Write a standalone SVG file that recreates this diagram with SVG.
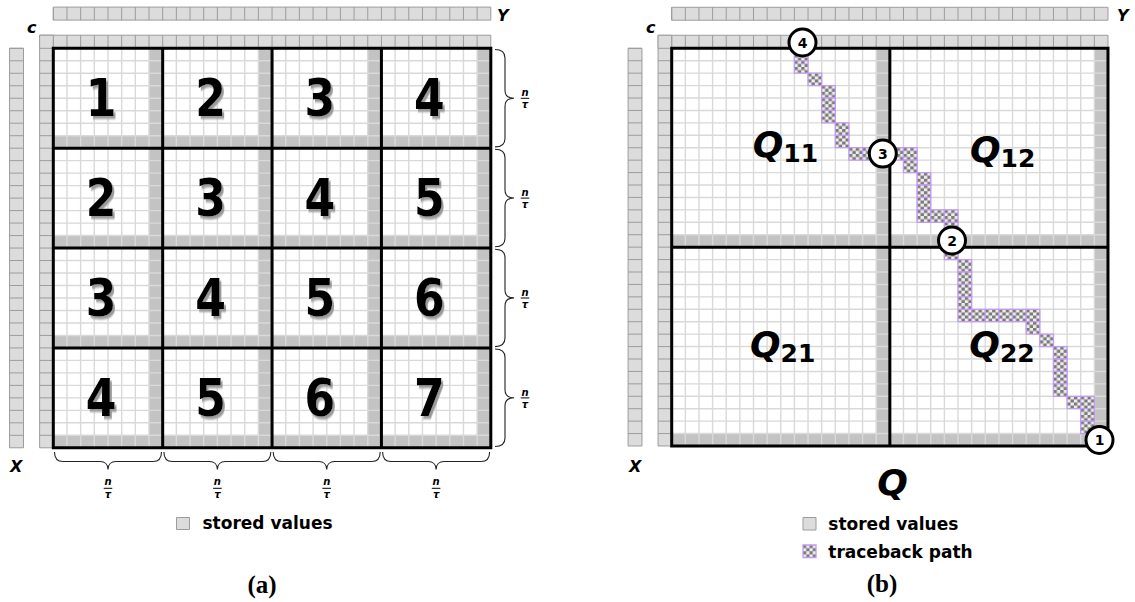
<svg xmlns="http://www.w3.org/2000/svg" width="1135" height="602" viewBox="0 0 1135 602">
<style>
.gl{fill:none;stroke:#d9d9d9;stroke-width:1.4;vector-effect:non-scaling-stroke}
.st{fill:#c3c3c3}
.sc{fill:#dcdcdc;stroke:#9c9c9c;stroke-width:1;vector-effect:non-scaling-stroke}
.sl{fill:none;stroke:#9c9c9c;stroke-width:1;vector-effect:non-scaling-stroke}
.tk{fill:none;stroke:#000;stroke-width:3;vector-effect:non-scaling-stroke}
.tb{fill:url(#chk);stroke:#c29af0;stroke-width:1.3;vector-effect:non-scaling-stroke}
.big{font-family:"DejaVu Sans",Verdana,sans-serif;font-weight:bold;font-size:52px;text-anchor:middle;filter:url(#shadow)}
.lbl{font-family:"DejaVu Sans",sans-serif;font-weight:bold;font-style:italic;font-size:16px}
.fr{font-family:"DejaVu Sans",sans-serif;font-weight:bold;font-style:italic;font-size:10px;text-anchor:middle}
.fb{stroke:#000;stroke-width:1}
.br{fill:none;stroke:#222;stroke-width:1.1}
.leg{font-family:"DejaVu Sans",sans-serif;font-weight:bold;font-size:17px}
.cap{font-family:"Liberation Serif",serif;font-weight:bold;font-size:25px;text-anchor:middle}
.circ{fill:#fff;stroke:#000;stroke-width:3}
.cn{font-family:"DejaVu Sans",sans-serif;font-weight:bold;font-size:14px;text-anchor:middle}
.q{font-family:"DejaVu Sans",sans-serif;font-weight:bold;font-style:italic;font-size:36px}
.sub{font-style:normal;font-size:25px}
</style>
<defs>
<filter id="shadow" x="-20%" y="-20%" width="150%" height="150%">
<feGaussianBlur in="SourceAlpha" stdDeviation="0.8" result="b"/>
<feOffset in="b" dx="2.5" dy="2.5" result="o"/>
<feFlood flood-color="#9a9a9a"/>
<feComposite in2="o" operator="in" result="s"/>
<feMerge><feMergeNode in="s"/><feMergeNode in="SourceGraphic"/></feMerge>
</filter>
<pattern id="chk" patternUnits="objectBoundingBox" patternContentUnits="objectBoundingBox" width="0.5" height="0.5">
<rect width="0.5" height="0.5" fill="#eeeeee"/>
<rect width="0.25" height="0.25" fill="#7a7a7a"/>
<rect x="0.25" y="0.25" width="0.25" height="0.25" fill="#7a7a7a"/>
</pattern>
<path id="grid" class="gl" d="M1 0V32M2 0V32M3 0V32M4 0V32M5 0V32M6 0V32M7 0V32M8 0V32M9 0V32M10 0V32M11 0V32M12 0V32M13 0V32M14 0V32M15 0V32M16 0V32M17 0V32M18 0V32M19 0V32M20 0V32M21 0V32M22 0V32M23 0V32M24 0V32M25 0V32M26 0V32M27 0V32M28 0V32M29 0V32M30 0V32M31 0V32M0 1H32M0 2H32M0 3H32M0 4H32M0 5H32M0 6H32M0 7H32M0 8H32M0 9H32M0 10H32M0 11H32M0 12H32M0 13H32M0 14H32M0 15H32M0 16H32M0 17H32M0 18H32M0 19H32M0 20H32M0 21H32M0 22H32M0 23H32M0 24H32M0 25H32M0 26H32M0 27H32M0 28H32M0 29H32M0 30H32M0 31H32"/>
<path id="vsep" class="sl" d="M0 0V1M1 0V1M2 0V1M3 0V1M4 0V1M5 0V1M6 0V1M7 0V1M8 0V1M9 0V1M10 0V1M11 0V1M12 0V1M13 0V1M14 0V1M15 0V1M16 0V1M17 0V1M18 0V1M19 0V1M20 0V1M21 0V1M22 0V1M23 0V1M24 0V1M25 0V1M26 0V1M27 0V1M28 0V1M29 0V1M30 0V1M31 0V1"/>
<path id="hsep" class="sl" d="M0 0H1M0 1H1M0 2H1M0 3H1M0 4H1M0 5H1M0 6H1M0 7H1M0 8H1M0 9H1M0 10H1M0 11H1M0 12H1M0 13H1M0 14H1M0 15H1M0 16H1M0 17H1M0 18H1M0 19H1M0 20H1M0 21H1M0 22H1M0 23H1M0 24H1M0 25H1M0 26H1M0 27H1M0 28H1M0 29H1M0 30H1M0 31H1"/>
<g id="strips">
<rect class="sc" x="-1" y="-1.05" width="33" height="1.05"/>
<use href="#vsep" transform="translate(0,-1.05) scale(1,1.05)"/>
<rect class="sc" x="-1" y="-1.05" width="1" height="33.05"/>
<use href="#hsep" transform="translate(-1,0)"/>
<rect class="sc" x="0" y="-3.3" width="32" height="1.04"/>
<use href="#vsep" transform="translate(0,-3.3) scale(1,1.04)"/>
<rect class="sc" x="-3.2" y="0" width="1.02" height="32"/>
<use href="#hsep" transform="translate(-3.2,0) scale(1.02,1)"/>
</g>
<rect id="tc" class="tb" width="1" height="1"/>
</defs>

<g id="panel-a">
<g id="grid-a" transform="translate(53.3,48.3) scale(13.672,12.484)">
<rect x="0" y="0" width="32" height="32" fill="#fff"/>
<rect class="st" x="7" y="0" width="1" height="32"/>
<rect class="st" x="15" y="0" width="1" height="32"/>
<rect class="st" x="23" y="0" width="1" height="32"/>
<rect class="st" x="31" y="0" width="1" height="32"/>
<rect class="st" x="0" y="7" width="32" height="1"/>
<rect class="st" x="0" y="15" width="32" height="1"/>
<rect class="st" x="0" y="23" width="32" height="1"/>
<rect class="st" x="0" y="31" width="32" height="1"/>
<use href="#grid"/>
<use href="#strips"/>
<path class="tk" d="M0 0H32V32H0ZM8 0V32M16 0V32M24 0V32M0 8H32M0 16H32M0 24H32"/>
</g>
<g id="blocks-a">
<g transform="translate(101.2,116.3) scale(0.85,1)"><text class="big">1</text></g>
<g transform="translate(210.5,116.3) scale(0.85,1)"><text class="big">2</text></g>
<g transform="translate(319.9,116.3) scale(0.85,1)"><text class="big">3</text></g>
<g transform="translate(429.3,116.3) scale(0.85,1)"><text class="big">4</text></g>
<g transform="translate(101.2,216.1) scale(0.85,1)"><text class="big">2</text></g>
<g transform="translate(210.5,216.1) scale(0.85,1)"><text class="big">3</text></g>
<g transform="translate(319.9,216.1) scale(0.85,1)"><text class="big">4</text></g>
<g transform="translate(429.3,216.1) scale(0.85,1)"><text class="big">5</text></g>
<g transform="translate(101.2,316) scale(0.85,1)"><text class="big">3</text></g>
<g transform="translate(210.5,316) scale(0.85,1)"><text class="big">4</text></g>
<g transform="translate(319.9,316) scale(0.85,1)"><text class="big">5</text></g>
<g transform="translate(429.3,316) scale(0.85,1)"><text class="big">6</text></g>
<g transform="translate(101.2,415.8) scale(0.85,1)"><text class="big">4</text></g>
<g transform="translate(210.5,415.8) scale(0.85,1)"><text class="big">5</text></g>
<g transform="translate(319.9,415.8) scale(0.85,1)"><text class="big">6</text></g>
<g transform="translate(429.3,415.8) scale(0.85,1)"><text class="big">7</text></g>
</g>
<g id="labels-a">
<text class="lbl" x="27" y="33">c</text>
<text class="lbl" x="497" y="21">Y</text>
<text class="lbl" x="10" y="472">X</text>
</g>
<g id="braces-a">
<path class="br" d="M495 49.5C501 49.5 505 51.5 505 58V90.2C505 95 508 98.2 514 98.2C508 98.2 505 101.4 505 106.2V138.4C505 144.9 501 146.9 495 146.9"/>
<path class="br" d="M495 149.3C501 149.3 505 151.3 505 157.8V190C505 194.8 508 198 514 198C508 198 505 201.2 505 206V238.3C505 244.8 501 246.8 495 246.8"/>
<path class="br" d="M495 249.2C501 249.2 505 251.2 505 257.7V289.9C505 294.7 508 297.9 514 297.9C508 297.9 505 301.1 505 305.9V338.1C505 344.6 501 346.6 495 346.6"/>
<path class="br" d="M495 349C501 349 505 351 505 357.5V389.8C505 394.6 508 397.8 514 397.8C508 397.8 505 401 505 405.8V438C505 444.5 501 446.5 495 446.5"/>
<path class="br" d="M54.5 452C54.5 458 56.5 461.5 63 461.5H100C104.8 461.5 108 464.5 108 469.5C108 464.5 111.2 461.5 116 461.5H153C159.5 461.5 161.5 458 161.5 452"/>
<path class="br" d="M163.9 452C163.9 458 165.9 461.5 172.4 461.5H209.4C214.2 461.5 217.4 464.5 217.4 469.5C217.4 464.5 220.6 461.5 225.4 461.5H262.3C268.8 461.5 270.8 458 270.8 452"/>
<path class="br" d="M273.2 452C273.2 458 275.2 461.5 281.7 461.5H318.7C323.5 461.5 326.7 464.5 326.7 469.5C326.7 464.5 329.9 461.5 334.7 461.5H371.7C378.2 461.5 380.2 458 380.2 452"/>
<path class="br" d="M382.6 452C382.6 458 384.6 461.5 391.1 461.5H428.1C432.9 461.5 436.1 464.5 436.1 469.5C436.1 464.5 439.3 461.5 444.1 461.5H481.1C487.6 461.5 489.6 458 489.6 452"/>
</g>
<g id="fractions-a">
<text class="fr" x="525" y="96">n</text><line class="fb" x1="520.7" y1="98.3" x2="529.3" y2="98.3"/><text class="fr" x="525" y="108.3">τ</text>
<text class="fr" x="525" y="195.8">n</text><line class="fb" x1="520.7" y1="198.1" x2="529.3" y2="198.1"/><text class="fr" x="525" y="208.1">τ</text>
<text class="fr" x="525" y="295.7">n</text><line class="fb" x1="520.7" y1="298" x2="529.3" y2="298"/><text class="fr" x="525" y="308">τ</text>
<text class="fr" x="525" y="395.6">n</text><line class="fb" x1="520.7" y1="397.9" x2="529.3" y2="397.9"/><text class="fr" x="525" y="407.9">τ</text>
<text class="fr" x="108" y="485">n</text><line class="fb" x1="103.7" y1="488.3" x2="112.3" y2="488.3"/><text class="fr" x="108" y="498">τ</text>
<text class="fr" x="217.4" y="485">n</text><line class="fb" x1="213.1" y1="488.3" x2="221.7" y2="488.3"/><text class="fr" x="217.4" y="498">τ</text>
<text class="fr" x="326.7" y="485">n</text><line class="fb" x1="322.4" y1="488.3" x2="331" y2="488.3"/><text class="fr" x="326.7" y="498">τ</text>
<text class="fr" x="436.1" y="485">n</text><line class="fb" x1="431.8" y1="488.3" x2="440.4" y2="488.3"/><text class="fr" x="436.1" y="498">τ</text>
</g>
<g id="legend-a">
<rect class="sc" x="176.5" y="517.5" width="13" height="12"/>
<text class="leg" x="202.5" y="529">stored values</text>
</g>
<text class="cap" x="262" y="593">(a)</text>
</g>

<g id="panel-b">
<g id="grid-b" transform="translate(671.7,48.3) scale(13.634,12.428)">
<rect x="0" y="0" width="32" height="32" fill="#fff"/>
<rect class="st" x="15" y="0" width="1" height="32"/>
<rect class="st" x="31" y="0" width="1" height="32"/>
<rect class="st" x="0" y="15" width="32" height="1"/>
<rect class="st" x="0" y="31" width="32" height="1"/>
<use href="#grid"/>
<use href="#strips"/>
<g id="traceback-path">
<use href="#tc" x="9" y="0"/><use href="#tc" x="9" y="1"/><use href="#tc" x="10" y="2"/>
<use href="#tc" x="11" y="3"/><use href="#tc" x="11" y="4"/><use href="#tc" x="11" y="5"/>
<use href="#tc" x="12" y="6"/><use href="#tc" x="12" y="7"/>
<use href="#tc" x="13" y="8"/><use href="#tc" x="14" y="8"/><use href="#tc" x="15" y="8"/><use href="#tc" x="16" y="8"/><use href="#tc" x="17" y="8"/>
<use href="#tc" x="17" y="9"/>
<use href="#tc" x="18" y="10"/><use href="#tc" x="18" y="11"/><use href="#tc" x="18" y="12"/><use href="#tc" x="18" y="13"/>
<use href="#tc" x="19" y="13"/><use href="#tc" x="20" y="13"/><use href="#tc" x="20" y="14"/><use href="#tc" x="20" y="15"/><use href="#tc" x="20" y="16"/>
<use href="#tc" x="21" y="17"/><use href="#tc" x="21" y="18"/><use href="#tc" x="21" y="19"/><use href="#tc" x="21" y="20"/><use href="#tc" x="21" y="21"/>
<use href="#tc" x="22" y="21"/><use href="#tc" x="23" y="21"/><use href="#tc" x="24" y="21"/><use href="#tc" x="25" y="21"/><use href="#tc" x="26" y="21"/>
<use href="#tc" x="26" y="22"/><use href="#tc" x="27" y="23"/>
<use href="#tc" x="28" y="24"/><use href="#tc" x="28" y="25"/><use href="#tc" x="28" y="26"/><use href="#tc" x="28" y="27"/>
<use href="#tc" x="29" y="28"/><use href="#tc" x="30" y="28"/><use href="#tc" x="30" y="29"/><use href="#tc" x="30" y="30"/><use href="#tc" x="31" y="31"/>
</g>
<path class="tk" d="M0 0H32V32H0ZM16 0V32M0 16H32"/>
</g>
<g id="marker-4"><circle class="circ" cx="802.5" cy="42.5" r="13.5"/><text class="cn" x="802.5" y="47.6">4</text></g>
<g id="marker-3"><circle class="circ" cx="882.8" cy="153.6" r="13.5"/><text class="cn" x="882.8" y="158.7">3</text></g>
<g id="marker-2"><circle class="circ" cx="952" cy="240.5" r="13.5"/><text class="cn" x="952" y="245.6">2</text></g>
<g id="marker-1"><circle class="circ" cx="1099.5" cy="440" r="13.5"/><text class="cn" x="1099.5" y="445.1" font-weight="normal">1</text></g>
<g id="labels-b">
<text class="lbl" x="646" y="33">c</text>
<text class="lbl" x="1117" y="21">Y</text>
<text class="lbl" x="629" y="472">X</text>
<text class="q" x="752.7" y="157">Q<tspan class="sub" dy="4.7">11</tspan></text>
<text class="q" x="970" y="162">Q<tspan class="sub" dy="4.7">12</tspan></text>
<text class="q" x="750" y="357">Q<tspan class="sub" dy="4.7">21</tspan></text>
<text class="q" x="969.3" y="357">Q<tspan class="sub" dy="4.7">22</tspan></text>
<text class="q" x="892.5" y="495" font-size="41" text-anchor="middle">Q</text>
</g>
<g id="legend-b">
<rect class="sc" x="803" y="517.5" width="13" height="12.5"/>
<text class="leg" x="828.3" y="530">stored values</text>
<rect class="tb" x="803" y="545" width="13" height="12.5"/>
<text class="leg" x="828.3" y="557.5">traceback path</text>
</g>
<text class="cap" x="882" y="592">(b)</text>
</g>
</svg>
